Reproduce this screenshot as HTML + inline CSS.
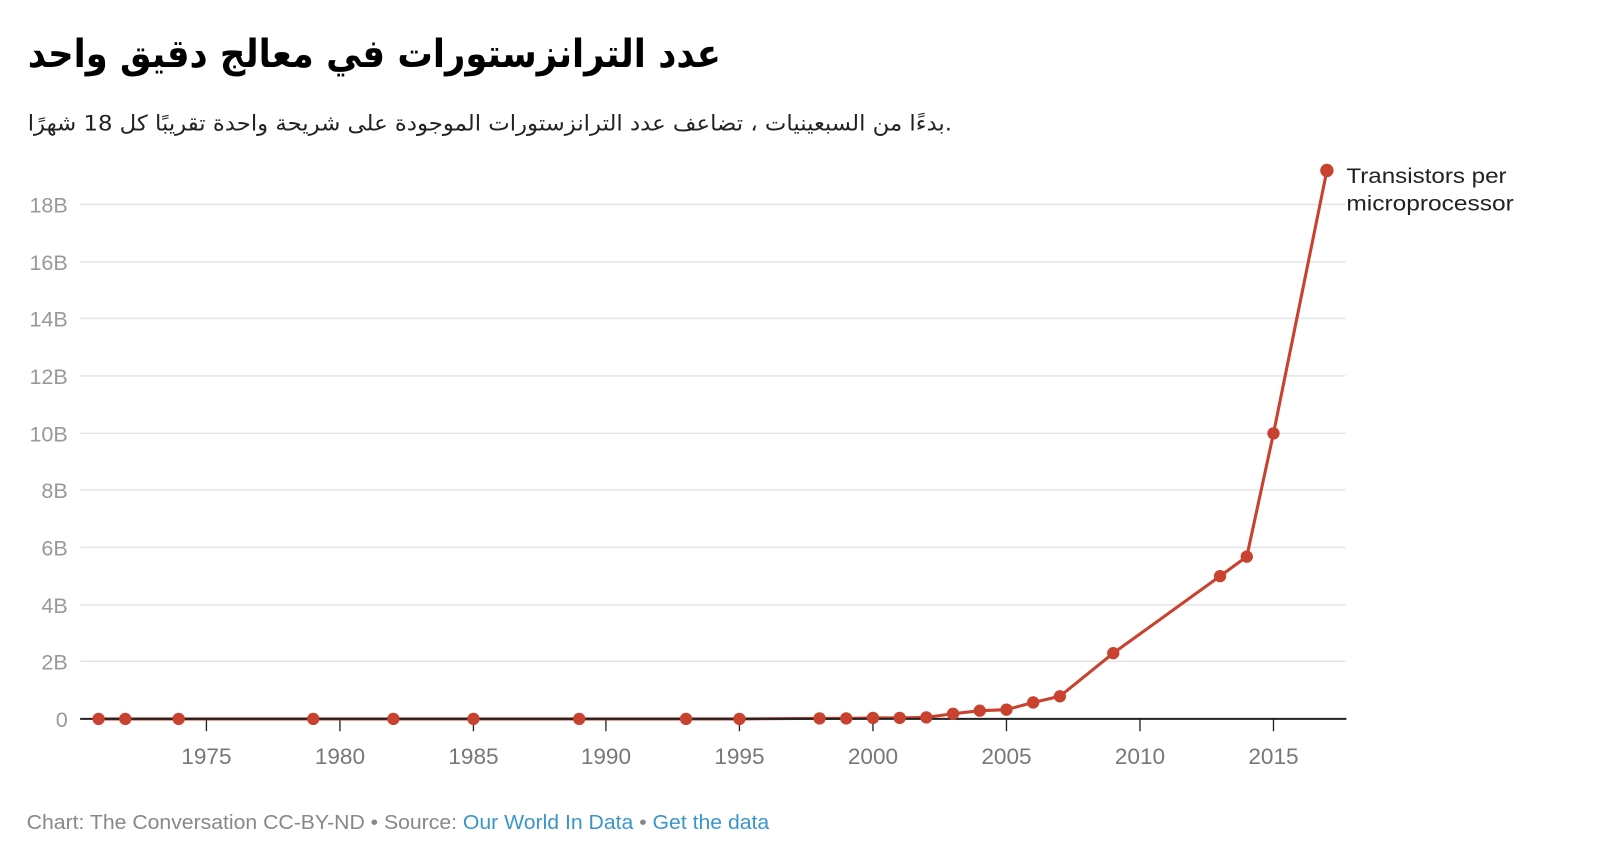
<!DOCTYPE html>
<html><head><meta charset="utf-8"><style>
body{margin:0;background:#fff;width:1610px;height:856px;overflow:hidden;font-family:"Liberation Sans","DejaVu Sans",sans-serif}
</style></head><body>
<svg width="1610" height="856" xmlns="http://www.w3.org/2000/svg" font-family="Liberation Sans, DejaVu Sans, sans-serif">
<g transform="scale(1.027)">
<text x="27" y="65" font-size="38" font-weight="bold" fill="#000" font-family="DejaVu Sans, sans-serif" textLength="675" lengthAdjust="spacingAndGlyphs">عدد الترانزستورات في معالج دقيق واحد</text>
<text x="27" y="127" font-size="21" fill="#222" font-family="DejaVu Sans, sans-serif" textLength="900" lengthAdjust="spacingAndGlyphs">بدءًا من السبعينيات ، تضاعف عدد الترانزستورات الموجودة على شريحة واحدة تقريبًا كل 18 شهرًا.</text>
<g stroke="#e4e4e4" stroke-width="1.5">
<line x1="78" x2="1310" y1="199" y2="199"/><line x1="78" x2="1310" y1="255" y2="255"/>
<line x1="78" x2="1310" y1="310" y2="310"/><line x1="78" x2="1310" y1="366" y2="366"/>
<line x1="78" x2="1310" y1="422" y2="422"/><line x1="78" x2="1310" y1="477" y2="477"/>
<line x1="78" x2="1310" y1="533" y2="533"/><line x1="78" x2="1310" y1="589" y2="589"/>
<line x1="78" x2="1310" y1="644" y2="644"/>
</g>
<g font-size="21" fill="#999" text-anchor="end">
<text x="66" y="207">18B</text><text x="66" y="263">16B</text><text x="66" y="318">14B</text>
<text x="66" y="374">12B</text><text x="66" y="430">10B</text><text x="66" y="485">8B</text>
<text x="66" y="541">6B</text><text x="66" y="597">4B</text><text x="66" y="652">2B</text>
<text x="66" y="708">0</text>
</g>
<g stroke="#222" stroke-width="1.3">
<line x1="201" x2="201" y1="700" y2="712"/><line x1="331" x2="331" y1="700" y2="712"/>
<line x1="461" x2="461" y1="700" y2="712"/><line x1="590" x2="590" y1="700" y2="712"/>
<line x1="720" x2="720" y1="700" y2="712"/><line x1="850" x2="850" y1="700" y2="712"/>
<line x1="980" x2="980" y1="700" y2="712"/><line x1="1110" x2="1110" y1="700" y2="712"/>
<line x1="1240" x2="1240" y1="700" y2="712"/>
</g>
<g font-size="22" fill="#777" text-anchor="middle">
<text x="201" y="744">1975</text><text x="331" y="744">1980</text><text x="461" y="744">1985</text>
<text x="590" y="744">1990</text><text x="720" y="744">1995</text><text x="850" y="744">2000</text>
<text x="980" y="744">2005</text><text x="1110" y="744">2010</text><text x="1240" y="744">2015</text>
</g>
<polyline fill="none" stroke="#c9412f" stroke-width="3" stroke-linejoin="round" points="96,700 122,700 174,700 305,700 383,700 461,700 564,700 668,700 720,700 798,699.5 824,699.5 850,699 876,699 902,698.5 928,695 954,692 980,691 1006,684 1032,678 1084,636 1188,561 1214,542 1240,422 1292,166"/>
<line x1="78" x2="1311" y1="700" y2="700" stroke="#222" stroke-width="2"/>
<g fill="#c9412f">
<circle cx="96" cy="700" r="6"/><circle cx="122" cy="700" r="6"/><circle cx="174" cy="700" r="6"/>
<circle cx="305" cy="700" r="6"/><circle cx="383" cy="700" r="6"/><circle cx="461" cy="700" r="6"/>
<circle cx="564" cy="700" r="6"/><circle cx="668" cy="700" r="6"/><circle cx="720" cy="700" r="6"/>
<circle cx="798" cy="699.5" r="6"/><circle cx="824" cy="699.5" r="6"/><circle cx="850" cy="699" r="6"/>
<circle cx="876" cy="699" r="6"/><circle cx="902" cy="698.5" r="6"/><circle cx="928" cy="695" r="6"/>
<circle cx="954" cy="692" r="6"/><circle cx="980" cy="691" r="6"/><circle cx="1006" cy="684" r="6"/>
<circle cx="1032" cy="678" r="6"/><circle cx="1084" cy="636" r="6"/><circle cx="1188" cy="561" r="6"/>
<circle cx="1214" cy="542" r="6"/><circle cx="1240" cy="422" r="6"/><circle cx="1292" cy="166" r="6.5"/>
</g>
<text x="1311" y="178" font-size="21" fill="#222" textLength="156" lengthAdjust="spacingAndGlyphs">Transistors per</text>
<text x="1311" y="205" font-size="21" fill="#222" textLength="163" lengthAdjust="spacingAndGlyphs">microprocessor</text>
<text x="26" y="807" font-size="20" fill="#888" textLength="723" lengthAdjust="spacingAndGlyphs">Chart: The Conversation CC-BY-ND • Source: <tspan fill="#3a95c9">Our World In Data</tspan> • <tspan fill="#3a95c9">Get the data</tspan></text>
</g>
</svg>
</body></html>
